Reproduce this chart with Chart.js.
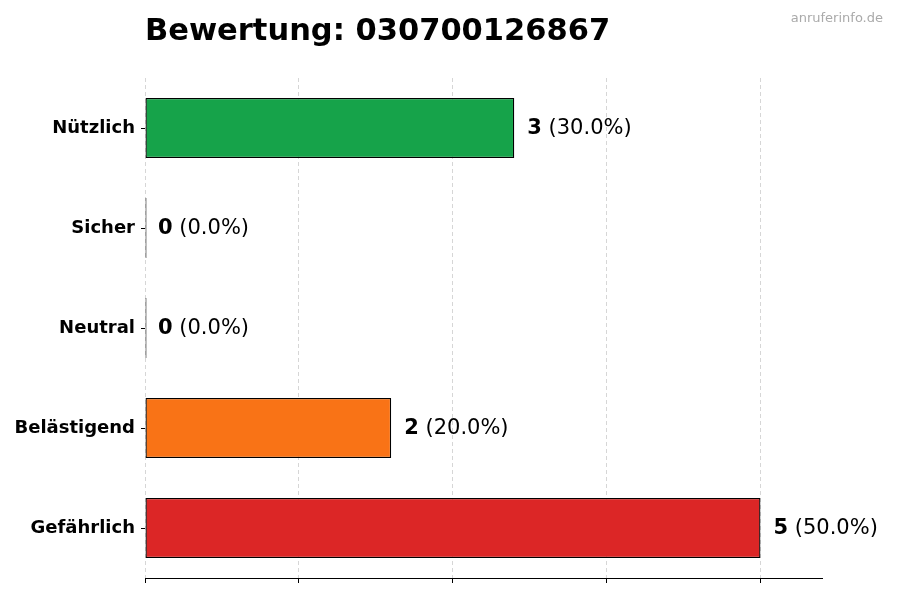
<!DOCTYPE html>
<html>
<head>
<meta charset="utf-8">
<script src="https://cdn.jsdelivr.net/npm/chart.js@4"></script>
<style>
  html, body { margin: 0; padding: 0; background: #fff; }
  #wrap { width: 900px; height: 600px; position: relative; }
</style>
</head>
<body>
<div id="wrap"><canvas id="ratingChart"></canvas></div>
<script>
const categories = ["Nützlich", "Sicher", "Neutral", "Belästigend", "Gefährlich"];
const counts = [3, 0, 0, 2, 5];
const barColors = ["#16a34a", "#3b82f6", "#9ca3af", "#f97316", "#dc2626"];
const xTicks = [0, 1.25, 2.5, 3.75, 5];
const titleText = "Bewertung: 030700126867";
const watermark = "anruferinfo.de";

const total = counts.reduce((a, b) => a + b, 0);
const FONT = "'DejaVu Sans', sans-serif";

// title, watermark and the value labels next to the bars
const labelsPlugin = {
  id: "labels",
  afterDraw(chart) {
    const ctx = chart.ctx;
    const xs = chart.scales.x;
    const ys = chart.scales.y;
    ctx.save();
    ctx.textBaseline = "alphabetic";
    ctx.fillStyle = "#000";
    ctx.font = "bold 30.5px " + FONT;
    ctx.textAlign = "left";
    ctx.fillText(titleText, xs.left, 40);

    ctx.fillStyle = "#aaaaaa";
    ctx.font = "13px " + FONT;
    ctx.textAlign = "right";
    ctx.fillText(watermark, 883, 22);

    ctx.textAlign = "left";
    ctx.textBaseline = "middle";
    counts.forEach((v, i) => {
      let x = xs.getPixelForValue(v) + 13;
      const y = ys.getPixelForValue(i) + 1;
      const pct = total ? (v / total * 100).toFixed(1) : "0.0";
      ctx.fillStyle = "#000";
      ctx.font = "bold 21px " + FONT;
      ctx.fillText(String(v), x, y);
      x += ctx.measureText(String(v)).width;
      ctx.font = "21px " + FONT;
      ctx.fillText(" (" + pct + "%)", x, y);
    });
    ctx.restore();
  }
};

new Chart(document.getElementById("ratingChart"), {
  type: "bar",
  data: {
    labels: categories,
    datasets: [{
      data: counts,
      backgroundColor: barColors,
      borderColor: "#000",
      borderWidth: 1.3,
      borderSkipped: false,
      minBarLength: 1.5,
      barPercentage: 0.6,
      categoryPercentage: 1.0
    }]
  },
  options: {
    indexAxis: "y",
    responsive: true,
    maintainAspectRatio: false,
    animation: false,
    layout: { padding: { top: 78, right: 78, bottom: 0, left: 0 } },
    plugins: {
      legend: { display: false },
      tooltip: { enabled: false },
      title: { display: false }
    },
    scales: {
      x: {
        min: 0,
        max: 5.5,
        z: 1,
        afterBuildTicks: (scale) => {
          scale.ticks = xTicks.map((v) => ({ value: v }));
        },
        afterFit: (scale) => { scale.height = 22; },
        ticks: { display: false },
        grid: {
          color: "rgba(180,180,180,0.55)",
          lineWidth: 1,
          tickLength: 5,
          tickColor: "#000",
          tickWidth: 1
        },
        border: { display: true, color: "#000", width: 1, dash: [4, 3] }
      },
      y: {
        afterFit: (scale) => { scale.width = 145; },
        ticks: {
          color: "#000",
          font: { family: FONT, size: 18, weight: "bold" },
          padding: 6
        },
        grid: {
          offset: false,
          drawOnChartArea: false,
          tickLength: 4,
          tickColor: "#000"
        },
        border: { display: false }
      }
    }
  },
  plugins: [labelsPlugin]
});
</script>
</body>
</html>
